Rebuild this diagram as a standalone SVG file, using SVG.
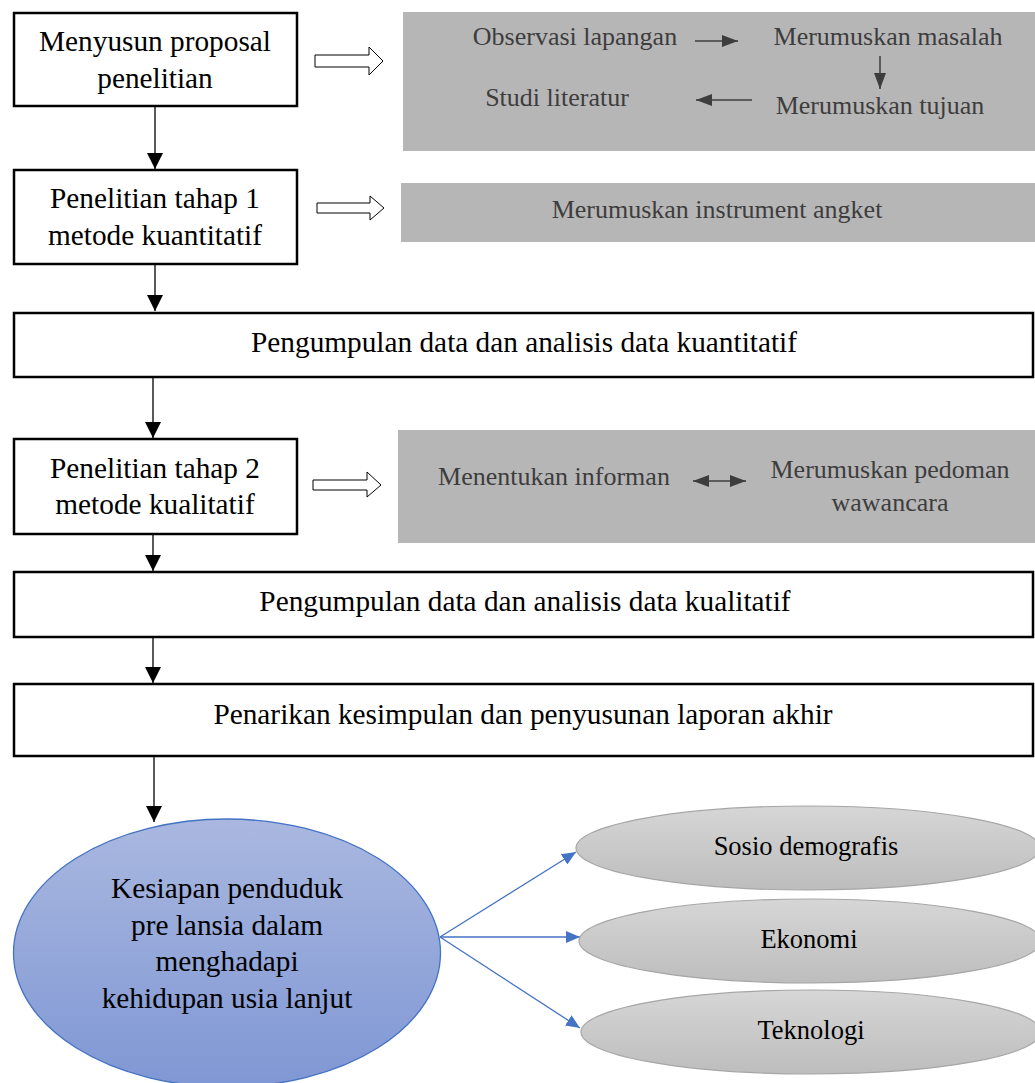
<svg xmlns="http://www.w3.org/2000/svg" width="1035" height="1083" viewBox="0 0 1035 1083">
<defs>
<style>
.box{fill:#fff;stroke:#000;stroke-width:2.5}
.gray{fill:#b7b6b7}
.flow{stroke:#000;stroke-width:1.3;fill:none;marker-end:url(#ah)}
.inner{stroke:#3d3d3d;stroke-width:1.5;fill:none}
.blue{stroke:#4472c4;stroke-width:1.3;fill:none;marker-end:url(#bh)}
.hollow{fill:#fff;stroke:#000;stroke-width:1}
.oval{fill:url(#gg);stroke:#a6a6a6;stroke-width:1.2}
</style>
<marker id="ah" markerUnits="userSpaceOnUse" markerWidth="16" markerHeight="16" viewBox="0 0 16 16" refX="16" refY="8" orient="auto">
<path d="M0,0 L16,8 L0,16 Z" fill="#000"/>
</marker>
<marker id="gh" markerUnits="userSpaceOnUse" markerWidth="16" markerHeight="12" viewBox="0 0 16 12" refX="16" refY="6" orient="auto-start-reverse">
<path d="M0,0 L16,6 L0,12 Z" fill="#3d3d3d"/>
</marker>
<marker id="bh" markerUnits="userSpaceOnUse" markerWidth="14" markerHeight="12" viewBox="0 0 14 12" refX="14" refY="6" orient="auto">
<path d="M0,0 L14,6 L0,12 Z" fill="#4472c4"/>
</marker>
<linearGradient id="bg" x1="0" y1="0" x2="0" y2="1">
<stop offset="0" stop-color="#aab8e0"/>
<stop offset="1" stop-color="#7f97d4"/>
</linearGradient>
<linearGradient id="gg" x1="0" y1="0" x2="0" y2="1">
<stop offset="0" stop-color="#d6d6d6"/>
<stop offset="1" stop-color="#bdbdbd"/>
</linearGradient>
</defs>
<rect width="1035" height="1083" fill="#fff"/>

<g id="connectors">
<line class="flow" x1="155" y1="107" x2="155" y2="169"/>
<line class="flow" x1="155" y1="265" x2="155" y2="311"/>
<line class="flow" x1="153" y1="378" x2="153" y2="438"/>
<line class="flow" x1="153" y1="535" x2="153" y2="571"/>
<line class="flow" x1="153" y1="638" x2="153" y2="683"/>
<line class="flow" x1="154" y1="757" x2="154" y2="822"/>
<polygon class="hollow" points="315,55 369,55 369,47 383,61 369,75 369,67 315,67"/>
<polygon class="hollow" points="317,203 370,203 370,196 384,208 370,220 370,213 317,213"/>
<polygon class="hollow" points="313,480 367,480 367,472 381,485 367,497 367,490 313,490"/>
<line class="blue" x1="440" y1="937" x2="576" y2="852"/>
<line class="blue" x1="440" y1="937" x2="580" y2="937"/>
<line class="blue" x1="440" y1="937" x2="580" y2="1028"/>
</g>

<g font-family="Liberation Serif, DejaVu Serif, serif" text-anchor="middle">
<g id="n1" font-size="29.3" fill="#000"><rect class="box" x="14" y="13" width="283" height="93"/>
<text x="155" y="51">Menyusun proposal</text>
<text x="155" y="88">penelitian</text></g>

<g id="g1" font-size="26" fill="#3d3d3d"><rect class="gray" x="403" y="12" width="640" height="139"/>
<text x="575" y="45">Observasi lapangan</text>
<text x="888" y="45">Merumuskan masalah</text>
<text x="557" y="106">Studi literatur</text>
<text x="880" y="114">Merumuskan tujuan</text>
<line class="inner" x1="695" y1="41" x2="738" y2="41" marker-end="url(#gh)"/>
<line class="inner" x1="880" y1="56" x2="880" y2="89" marker-end="url(#gh)"/>
<line class="inner" x1="752" y1="100" x2="696" y2="100" marker-end="url(#gh)"/></g>

<g id="n2" font-size="29.3" fill="#000"><rect class="box" x="14" y="170" width="283" height="94"/>
<text x="155" y="208">Penelitian tahap 1</text>
<text x="155" y="245">metode kuantitatif</text></g>

<g id="g2" font-size="26" fill="#3d3d3d"><rect class="gray" x="401" y="183" width="640" height="59"/>
<text x="717" y="218">Merumuskan instrument angket</text></g>

<g id="n3" font-size="29.3" fill="#000"><rect class="box" x="14" y="313" width="1019" height="64"/>
<text x="524" y="352">Pengumpulan data dan analisis data kuantitatif</text></g>

<g id="n4" font-size="29.3" fill="#000"><rect class="box" x="14" y="439" width="283" height="95"/>
<text x="155" y="478">Penelitian tahap 2</text>
<text x="155" y="514">metode kualitatif</text></g>

<g id="g3" font-size="26" fill="#3d3d3d"><rect class="gray" x="398" y="430" width="640" height="113"/>
<text x="554" y="485">Menentukan informan</text>
<text x="890" y="478">Merumuskan pedoman</text>
<text x="890" y="511">wawancara</text>
<line class="inner" x1="693" y1="481" x2="746" y2="481" marker-start="url(#gh)" marker-end="url(#gh)"/></g>

<g id="n5" font-size="29.3" fill="#000"><rect class="box" x="14" y="572" width="1019" height="65"/>
<text x="525" y="611">Pengumpulan data dan analisis data kualitatif</text></g>

<g id="n6" font-size="29.3" fill="#000"><rect class="box" x="14" y="684" width="1019" height="72"/>
<text x="523" y="724">Penarikan kesimpulan dan penyusunan laporan akhir</text></g>

<g id="n7" font-size="29.3" fill="#000"><ellipse cx="227" cy="953" rx="213.5" ry="134" fill="url(#bg)" stroke="#4472c4" stroke-width="1.3"/>
<text x="227" y="898">Kesiapan penduduk</text>
<text x="227" y="935">pre lansia dalam</text>
<text x="227" y="971">menghadapi</text>
<text x="227" y="1008">kehidupan usia lanjut</text></g>

<g id="n8" font-size="26.5" fill="#000"><ellipse class="oval" cx="808" cy="848" rx="232" ry="42"/>
<text x="806" y="855">Sosio demografis</text></g>
<g id="n9" font-size="26.5" fill="#000"><ellipse class="oval" cx="810" cy="941" rx="231" ry="42"/>
<text x="809" y="948">Ekonomi</text></g>
<g id="n10" font-size="26.5" fill="#000"><ellipse class="oval" cx="811" cy="1032" rx="230" ry="42"/>
<text x="811" y="1039">Teknologi</text></g>
</g>
</svg>
